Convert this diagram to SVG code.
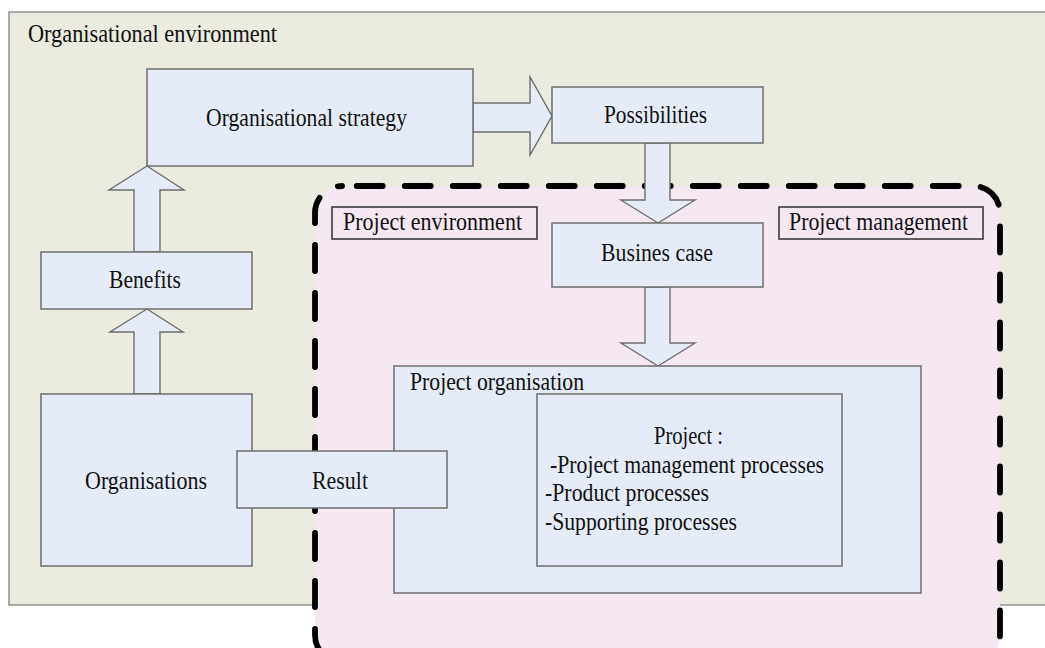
<svg xmlns="http://www.w3.org/2000/svg" width="1045" height="648" viewBox="0 0 1045 648">
  <style>
    .env { fill: #EBEBDF; stroke: #7A7A7A; stroke-width: 1.2; }
    .zone { fill: #F5E8F2; stroke: none; }
    .dash { fill: none; stroke: #000; stroke-width: 5.8; stroke-linecap: round; stroke-dasharray: 26 22; stroke-dashoffset: 33.25; }
    .box { fill: #E6ECF7; stroke: #6E6E6E; stroke-width: 1.5; }
    .tag { fill: none; stroke: #3A3A3A; stroke-width: 1.6; }
    .arrow { fill: #E6ECF7; stroke: #6E6E6E; stroke-width: 1.4; stroke-linejoin: miter; }
    text { font-family: "Liberation Serif", "Times New Roman", serif; font-size: 26px; fill: #111; }
  </style>

  <!-- organisational environment frame -->
  <g id="org-environment">
    <rect class="env" x="9" y="12" width="1050" height="593"/>
    <text x="28" y="42" textLength="249" lengthAdjust="spacingAndGlyphs">Organisational environment</text>
  </g>

  <!-- project management zone, dashed rounded border -->
  <g id="project-zone">
    <rect class="zone" x="315" y="186" width="685" height="476" rx="27" ry="27"/>
    <path class="dash" d="M342,186 H973 A27,27 0 0 1 1000,213 V635 A27,27 0 0 1 973,662 H342 A27,27 0 0 1 315,635 V213 A27,27 0 0 1 342,186 Z"/>
  </g>

  <g id="project-environment-label">
    <rect class="tag" x="332" y="207" width="205" height="32"/>
    <text x="343" y="230" textLength="179" lengthAdjust="spacingAndGlyphs">Project environment</text>
  </g>

  <g id="project-management-label">
    <rect class="tag" x="779" y="207" width="204" height="32"/>
    <text x="789" y="230" textLength="179" lengthAdjust="spacingAndGlyphs">Project management</text>
  </g>

  <!-- block arrows -->
  <g id="connectors">
    <polygon class="arrow" points="134,252 134,190 109,190 147,166 184,190 160,190 160,252"/>
    <polygon class="arrow" points="134,394 134,332 110,332 147,309 183,332 160,332 160,394"/>
    <polygon class="arrow" points="473,103 530,103 530,77 552,116 530,155 530,132 473,132"/>
    <polygon class="arrow" points="645,143 645,200 621,200 658,223 695,200 670,200 670,143"/>
    <polygon class="arrow" points="645,287 645,343 621,343 658,366 695,343 670,343 670,287"/>
    <polygon class="arrow" points="537,469 463,469 463,452 448,480 463,509 463,490 537,490"/>
  </g>

  <g id="org-strategy">
    <rect class="box" x="147" y="69" width="326" height="97"/>
    <text x="206" y="126" textLength="201" lengthAdjust="spacingAndGlyphs">Organisational strategy</text>
  </g>

  <g id="possibilities">
    <rect class="box" x="552" y="87" width="211" height="56"/>
    <text x="604" y="123" textLength="103" lengthAdjust="spacingAndGlyphs">Possibilities</text>
  </g>

  <g id="business-case">
    <rect class="box" x="552" y="223" width="211" height="64"/>
    <text x="601" y="261" textLength="112" lengthAdjust="spacingAndGlyphs">Busines case</text>
  </g>

  <g id="benefits">
    <rect class="box" x="41" y="252" width="211" height="57"/>
    <text x="109" y="288" textLength="72" lengthAdjust="spacingAndGlyphs">Benefits</text>
  </g>

  <g id="organisations">
    <rect class="box" x="41" y="394" width="211" height="172"/>
    <text x="85" y="489" textLength="122" lengthAdjust="spacingAndGlyphs">Organisations</text>
  </g>

  <g id="project-organisation">
    <rect class="box" x="394" y="366" width="527" height="227"/>
    <text x="410" y="390" textLength="174" lengthAdjust="spacingAndGlyphs">Project organisation</text>
  </g>

  <g id="project">
    <rect class="box" x="537" y="394" width="305" height="172"/>
    <text x="654" y="444" textLength="69" lengthAdjust="spacingAndGlyphs">Project :</text>
    <text x="550" y="473" textLength="274" lengthAdjust="spacingAndGlyphs">-Project management processes</text>
    <text x="545" y="501" textLength="164" lengthAdjust="spacingAndGlyphs">-Product processes</text>
    <text x="545" y="530" textLength="192" lengthAdjust="spacingAndGlyphs">-Supporting processes</text>
  </g>

  <g id="result">
    <rect class="box" x="237" y="451" width="210" height="57"/>
    <text x="312" y="489" textLength="56" lengthAdjust="spacingAndGlyphs">Result</text>
  </g>
</svg>
